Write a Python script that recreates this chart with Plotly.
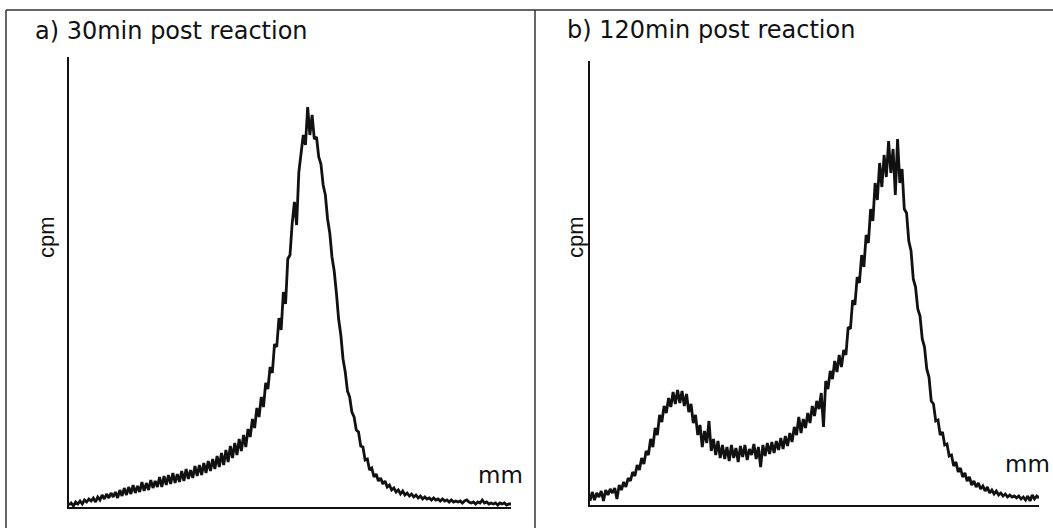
import plotly.graph_objects as go

W, H = 1053, 528

# Position along the strip (mm), sampled every 0.5 mm
mm_pos = [i / 2 for i in range(201)]

# a) 30 min post reaction (cpm, arbitrary units)
cpm_30 = [
    2, 4, 1, 5, 3, 6, 3, 7, 5, 8, 6, 9, 5, 10, 7, 12, 8, 13, 9, 14, 10,
    15, 9, 17, 11, 19, 12, 20, 13, 22, 14, 21, 15, 25, 16, 24, 17, 27, 19, 26, 20,
    30, 20, 31, 22, 32, 23, 34, 24, 33, 25, 36, 26, 38, 28, 37, 29, 41, 31, 42, 32,
    44, 34, 46, 36, 48, 38, 51, 40, 54, 42, 57, 45, 61, 49, 64, 52, 68, 56, 72, 60,
    78, 70, 88, 79, 99, 90, 110, 100, 124, 118, 140, 134, 163, 160, 189, 177, 215, 203, 248, 252,
    284, 305, 282, 335, 352, 372, 362, 400, 372, 392, 368, 370, 350, 343, 322, 312, 288, 274, 250, 236,
    214, 188, 172, 148, 135, 116, 110, 95, 90, 77, 75, 61, 60, 47, 48, 37, 39, 30, 33, 26,
    29, 23, 26, 20, 22, 17, 19, 15, 17, 13, 16, 12, 14, 11, 13, 10, 12, 9, 11, 8,
    10, 8, 9, 7, 9, 7, 8, 6, 8, 6, 7, 5, 7, 5, 6, 5, 6, 4, 6, 7,
    5, 4, 5, 3, 5, 4, 7, 4, 5, 3, 4, 3, 4, 2, 4, 3, 4, 2, 3, 3,
]

# b) 120 min post reaction (cpm, arbitrary units)
cpm_120 = [
    4, 13, 5, 12, 8, 14, 4, 15, 10, 16, 12, 17, 6, 20, 15, 23, 18, 27, 24, 33, 29,
    40, 35, 47, 41, 54, 50, 66, 58, 77, 70, 90, 83, 99, 92, 107, 98, 113, 101, 115, 102,
    114, 99, 111, 93, 101, 82, 90, 70, 80, 58, 74, 62, 84, 54, 66, 50, 64, 47, 60, 46,
    58, 44, 60, 47, 57, 43, 59, 48, 60, 45, 56, 50, 61, 46, 58, 38, 60, 49, 62, 51,
    63, 52, 64, 55, 67, 56, 69, 59, 72, 63, 78, 70, 88, 72, 86, 77, 92, 82, 99, 89,
    104, 96, 112, 78, 124, 116, 134, 126, 144, 133, 150, 138, 155, 150, 178, 176, 205, 200, 228, 222,
    250, 238, 270, 262, 296, 284, 322, 305, 342, 318, 350, 328, 364, 332, 356, 310, 366, 322, 336, 296,
    292, 264, 254, 226, 218, 196, 189, 166, 158, 136, 128, 104, 101, 84, 85, 70, 73, 60, 61, 49,
    50, 39, 43, 33, 37, 28, 32, 24, 28, 20, 24, 18, 22, 16, 19, 14, 18, 12, 15, 11,
    14, 10, 12, 9, 11, 8, 10, 8, 9, 7, 9, 6, 8, 5, 9, 4, 10, 6, 9, 7,
]

titles = ["a) 30min post reaction", "b) 120min post reaction"]
y_label = "cpm"
x_label = "mm"

fig = go.Figure()

line_style = dict(color="#111111", width=2.8)
fig.add_trace(go.Scatter(x=mm_pos, y=cpm_30, mode="lines", line=line_style,
                         xaxis="x", yaxis="y", showlegend=False, hoverinfo="skip"))
fig.add_trace(go.Scatter(x=mm_pos, y=cpm_120, mode="lines", line=line_style,
                         xaxis="x2", yaxis="y2", showlegend=False, hoverinfo="skip"))

def px_x(v):
    return v / W

def px_y(v):
    return (H - v) / H

axis_common = dict(showgrid=False, zeroline=False, showticklabels=False, ticks="",
                   showline=True, linecolor="#111111", linewidth=1.5, fixedrange=True)

fig.update_layout(
    width=W, height=H,
    margin=dict(l=0, r=0, t=0, b=0),
    paper_bgcolor="white", plot_bgcolor="white",
    xaxis=dict(domain=[px_x(69), px_x(511)], range=[0, 100], anchor="y", **axis_common),
    yaxis=dict(domain=[px_y(507), px_y(57)], range=[0, 450], anchor="x", **axis_common),
    xaxis2=dict(domain=[px_x(590), px_x(1039)], range=[0, 100], anchor="y2", **axis_common),
    yaxis2=dict(domain=[px_y(505), px_y(61)], range=[0, 444], anchor="x2", **axis_common),
)

border = dict(color="#333333", width=1.5)
fig.add_shape(type="line", xref="paper", yref="paper", x0=px_x(6), x1=1, y0=px_y(10), y1=px_y(10), line=border)
fig.add_shape(type="line", xref="paper", yref="paper", x0=px_x(6), x1=px_x(6), y0=0, y1=px_y(10), line=border)
fig.add_shape(type="line", xref="paper", yref="paper", x0=px_x(535), x1=px_x(535), y0=0, y1=px_y(10), line=border)

title_font = dict(family="DejaVu Sans", size=24, color="#111111")
fig.add_annotation(text=titles[0], xref="paper", yref="paper", x=px_x(33), y=px_y(31),
                   xanchor="left", yanchor="middle", showarrow=False, font=title_font)
fig.add_annotation(text=titles[1], xref="paper", yref="paper", x=px_x(565), y=px_y(30),
                   xanchor="left", yanchor="middle", showarrow=False, font=title_font)

cpm_font = dict(family="Liberation Sans", size=22, color="#111111")
for xc in (46, 575):
    fig.add_annotation(text=y_label, xref="paper", yref="paper", x=px_x(xc), y=px_y(237),
                       xanchor="center", yanchor="middle", textangle=-90, showarrow=False, font=cpm_font)

mm_font = dict(family="DejaVu Sans", size=23, color="#111111")
fig.add_annotation(text=x_label, xref="paper", yref="paper", x=px_x(500), y=px_y(475),
                   xanchor="center", yanchor="middle", showarrow=False, font=mm_font)
fig.add_annotation(text=x_label, xref="paper", yref="paper", x=px_x(1027), y=px_y(464),
                   xanchor="center", yanchor="middle", showarrow=False, font=mm_font)

fig.write_html("out.html", config={"displayModeBar": False},
               post_script="document.body.style.margin='0';")
